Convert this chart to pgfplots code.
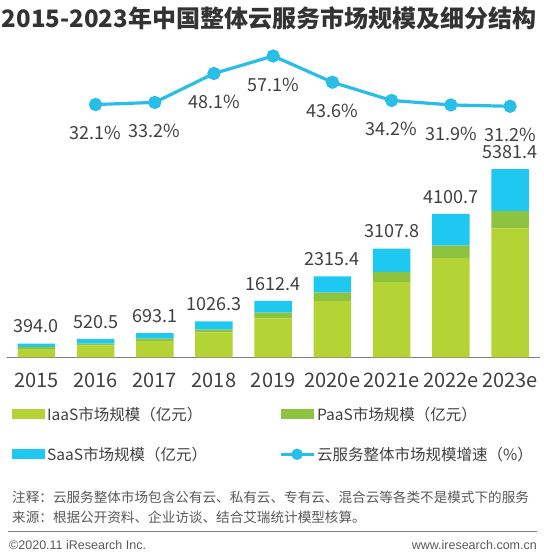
\documentclass[border=0pt]{standalone}
\usepackage{pgfplots}
\pgfplotsset{compat=1.18}
\usepackage{fontspec}
\setmainfont{Noto Sans CJK SC}
\newfontfamily\arial{Liberation Sans}
\definecolor{iaas}{HTML}{B4D334}
\definecolor{paas}{HTML}{8DC33F}
\definecolor{saas}{HTML}{1EC8F0}
\definecolor{linec}{HTML}{29BEE8}
\definecolor{txt}{HTML}{404040}
\definecolor{ttl}{HTML}{333333}
\definecolor{foot}{HTML}{595959}
\definecolor{axl}{HTML}{808080}
\begin{document}
\begin{tikzpicture}
\useasboundingbox (0pt,0pt) rectangle (544pt,555pt);
\node[font=\bfseries\fontsize{24}{27}\selectfont, text=ttl] at (269pt,537pt) {2015-2023年中国整体云服务市场规模及细分结构};
\begin{axis}[
  at={(6.7pt,197.7pt)}, anchor=south west,
  scale only axis, width=533pt, height=317.3pt,
  xmin=-0.5, xmax=8.5, ymin=0, ymax=9069,
  ybar stacked, bar width=37.5pt,
  axis x line*=bottom, axis y line=none,
  x axis line style={-, draw=axl, line width=1.2pt},
  xtick={0,...,8},
  xticklabels={2015,2016,2017,2018,2019,2020e,2021e,2022e,2023e},
  major tick length=0pt,
  xticklabel style={font=\fontsize{20}{24}\selectfont, text=txt, yshift=-12pt},
  /pgf/number format/assume math mode=true,
  legend columns=2,
  legend cell align=left,
  legend style={at={(0.0099,-0.150)}, anchor=north west, draw=none, fill=none,
    font=\fontsize{15.5}{18}\selectfont, text=txt, inner sep=0pt,
    row sep=21pt,
    /tikz/every even column/.append style={column sep=70pt}},
]
\addplot[fill=iaas, draw=none, legend image code/.code={\fill[iaas] (0pt,-5pt) rectangle (33pt,5pt);}]
  coordinates {(0,240) (1,340.5) (2,464) (3,712) (4,1109) (5,1609) (6,2153) (7,2843) (8,3687)};
\addlegendentry{IaaS市场规模（亿元）}
\addplot[fill=paas, draw=none, legend image code/.code={\fill[paas] (0pt,-5pt) rectangle (33pt,5pt);}]
  coordinates {(0,57) (1,49) (2,69) (3,77) (4,171) (5,240) (6,286) (7,352) (8,494)};
\addlegendentry{PaaS市场规模（亿元）}
\addplot[fill=saas, draw=none, legend image code/.code={\fill[saas] (0pt,-5pt) rectangle (33pt,5pt);}]
  coordinates {(0,97) (1,131) (2,160) (3,237) (4,332) (5,466) (6,669) (7,906) (8,1200)};
\addlegendentry{SaaS市场规模（亿元）}
\addlegendimage{legend image code/.code={\draw[linec, line width=3pt] (0pt,0pt) -- (33pt,0pt); \fill[linec] (16.5pt,0pt) circle (5.5pt);}}
\addlegendentry{云服务整体市场规模增速（\%）}
\end{axis}
\begin{axis}[
  at={(6.7pt,197.7pt)}, anchor=south west,
  scale only axis, width=533pt, height=317.3pt,
  xmin=-0.5, xmax=8.5, ymin=0, ymax=9069,
  hide axis, clip=false,
]
\addplot[draw=none, mark=none, nodes near coords, point meta=explicit symbolic,
  every node near coord/.style={anchor=south, yshift=7pt, font=\fontsize{18}{22}\selectfont, text=txt}]
  coordinates {(0,394.0)[394.0] (1,520.5)[520.5] (2,693.1)[693.1] (3,1026.3)[1026.3] (4,1612.4)[1612.4] (5,2315.4)[2315.4] (6,3107.8)[3107.8] (7,4100.7)[4100.7] (8,5381.4)[5381.4]};
\end{axis}
\begin{axis}[
  at={(6.7pt,197.7pt)}, anchor=south west,
  scale only axis, width=533pt, height=317.3pt,
  xmin=-0.5, xmax=8.5, ymin=-98.05, ymax=65.34,
  hide axis, clip=false,
]
\addplot[linec, line width=3.2pt, mark=*, mark size=5pt, mark options={fill=linec, draw=none},
  nodes near coords, point meta=explicit symbolic,
  every node near coord/.style={anchor=north, yshift=-17pt, font=\fontsize{18}{22}\selectfont, text=txt}]
  coordinates {(1,32.1)[32.1\%] (2,33.2)[33.2\%] (3,48.1)[48.1\%] (4,57.1)[57.1\%] (5,43.6)[43.6\%] (6,34.2)[34.2\%] (7,31.9)[31.9\%] (8,31.2)[31.2\%]};
\end{axis}
\node[anchor=west, font=\fontsize{13.6}{16}\selectfont, text=foot, inner sep=0pt] at (12pt,58pt) {注释：云服务整体市场包含公有云、私有云、专有云、混合云等各类不是模式下的服务};
\node[anchor=west, font=\fontsize{13.6}{16}\selectfont, text=foot, inner sep=0pt] at (12pt,38pt) {来源：根据公开资料、企业访谈、结合艾瑞统计模型核算。};
\draw[axl, line width=1pt] (8pt,23pt) -- (537pt,23pt);
\node[anchor=west, font=\arial\fontsize{12.5}{14}\selectfont, text=foot, inner sep=0pt] at (9pt,10pt) {©2020.11 iResearch Inc.};
\node[anchor=east, font=\arial\fontsize{12.5}{14}\selectfont, text=foot, inner sep=0pt] at (537pt,10pt) {www.iresearch.com.cn};
\end{tikzpicture}
\end{document}
